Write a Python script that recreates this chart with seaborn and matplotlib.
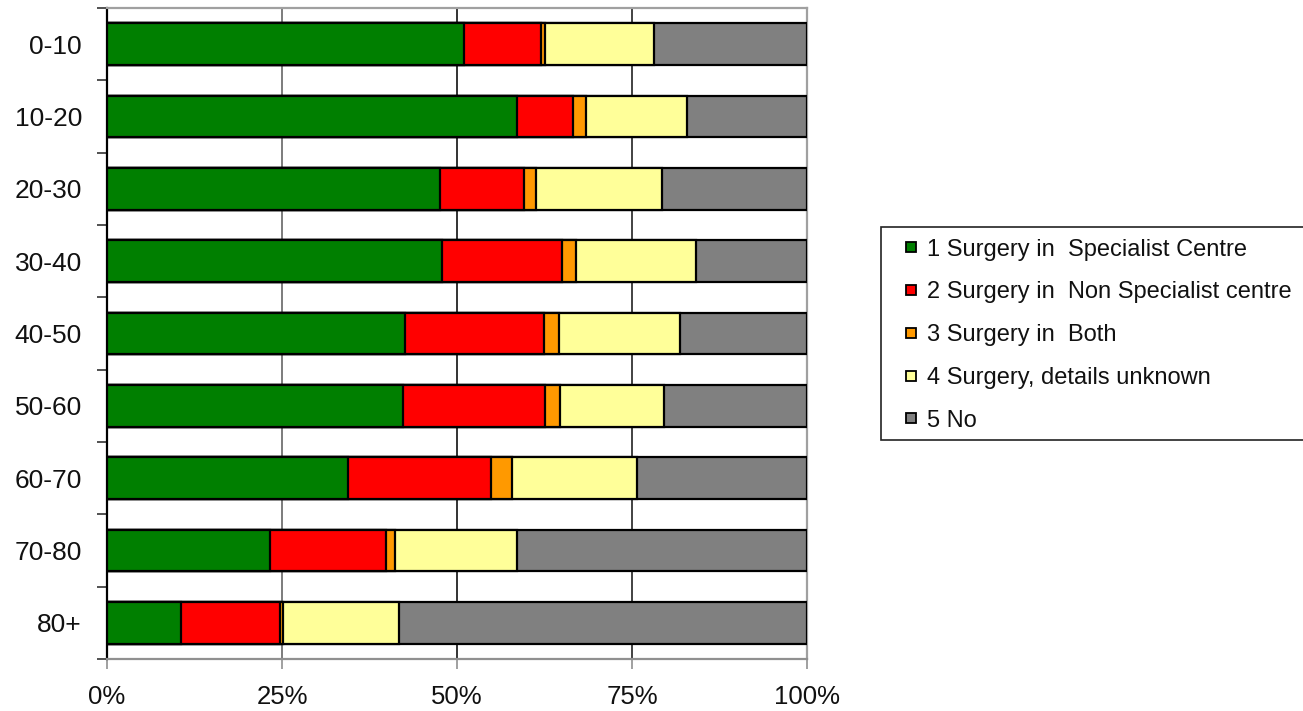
import numpy as np
import pandas as pd
import matplotlib
matplotlib.use("Agg")
import matplotlib.pyplot as plt
from matplotlib.lines import Line2D
from matplotlib.patches import Rectangle
import seaborn as sns

# Age bands and share (%) of patients in each surgery category
age_bands = ["0-10", "10-20", "20-30", "30-40", "40-50", "50-60", "60-70", "70-80", "80+"]
specialist = [51.0, 58.5, 47.5, 47.9, 42.6, 42.3, 34.4, 23.3, 10.6]
non_specialist = [11.0, 8.1, 12.0, 17.1, 19.8, 20.3, 20.5, 16.6, 14.1]
both = [0.5, 1.8, 1.8, 2.0, 2.1, 2.1, 2.9, 1.3, 0.5]
unknown = [15.7, 14.4, 18.0, 17.1, 17.3, 14.9, 17.9, 17.3, 16.5]

series_names = ["1 Surgery in  Specialist Centre",
                "2 Surgery in  Non Specialist centre",
                "3 Surgery in  Both",
                "4 Surgery, details unknown",
                "5 No"]
colors = ["#007F00", "#FF0000", "#FF9900", "#FFFF99", "#808080"]
x_ticks = [0, 25, 50, 75, 100]
x_tick_labels = ["0%", "25%", "50%", "75%", "100%"]

sns.set_theme(style="white")
plt.rcParams["font.family"] = ["Liberation Sans", "DejaVu Sans"]

parts = np.array([specialist, non_specialist, both, unknown])
cum = np.cumsum(parts, axis=0)
no_share = 100 - cum[-1]
cum_all = [cum[0], cum[1], cum[2], cum[3], cum[3] + no_share]

W, H = 1303, 711
fig = plt.figure(figsize=(W / 100, H / 100), dpi=100)
ax = fig.add_axes([107 / W, 1 - 659 / H, 700 / W, 651 / H])

# Stacked bars: draw the running totals from the longest down so each segment shows
for i in range(4, -1, -1):
    df = pd.DataFrame({"band": age_bands, "value": cum_all[i]})
    sns.barplot(data=df, x="value", y="band", orient="h", color=colors[i],
                width=0.58, edgecolor="black", linewidth=1.6, saturation=1,
                ax=ax, zorder=3)

ax.set_xlim(0, 100)
ax.set_ylim(len(age_bands) - 0.5, -0.5)
ax.set_xlabel("")
ax.set_ylabel("")

# Vertical gridlines
for xv, c in [(25, "#666666"), (50, "#111111"), (75, "#222222")]:
    ax.axvline(xv, color=c, lw=1.2, zorder=1)

ax.set_xticks(x_ticks)
ax.set_xticklabels(x_tick_labels, fontsize=18.5, color="#111111")
ax.tick_params(axis="x", which="major", direction="out", length=7, width=1.2,
               color="#909090", bottom=True, pad=12)

ax.set_yticks(range(len(age_bands)))
ax.set_yticklabels(age_bands, fontsize=19, color="#111111")
ax.tick_params(axis="y", which="major", length=0, pad=18)
ax.set_yticks(np.arange(-0.5, len(age_bands), 1.0), minor=True)
ax.tick_params(axis="y", which="minor", direction="out", length=7, width=1.2,
               color="#333333", left=True)

for side, c in [("left", "black"), ("bottom", "#909090"), ("top", "#a0a0a0"), ("right", "#a0a0a0")]:
    ax.spines[side].set_visible(True)
    ax.spines[side].set_color(c)
    ax.spines[side].set_linewidth(1.6)

# Legend box runs past the right edge of the figure
fig.patches.append(Rectangle((881 / W, 1 - 440 / H), 440 / W, 213 / H,
                             transform=fig.transFigure, facecolor="white",
                             edgecolor="#222222", linewidth=1.2, zorder=0))

handles = [Line2D([], [], linestyle="none", marker="s", markersize=7.5,
                  markerfacecolor=colors[i], markeredgecolor="black",
                  markeredgewidth=1.3, label=series_names[i])
           for i in range(5)]
leg = fig.legend(handles=handles, loc="upper left", bbox_to_anchor=(881 / W, 1 - 228 / H),
                 fontsize=17, frameon=False,
                 handlelength=1.6, handletextpad=-0.1,
                 labelspacing=0.88, borderpad=0.45, borderaxespad=0)
for t in leg.get_texts():
    t.set_color("#111111")

fig.savefig("out.png", dpi=100, facecolor="white")
